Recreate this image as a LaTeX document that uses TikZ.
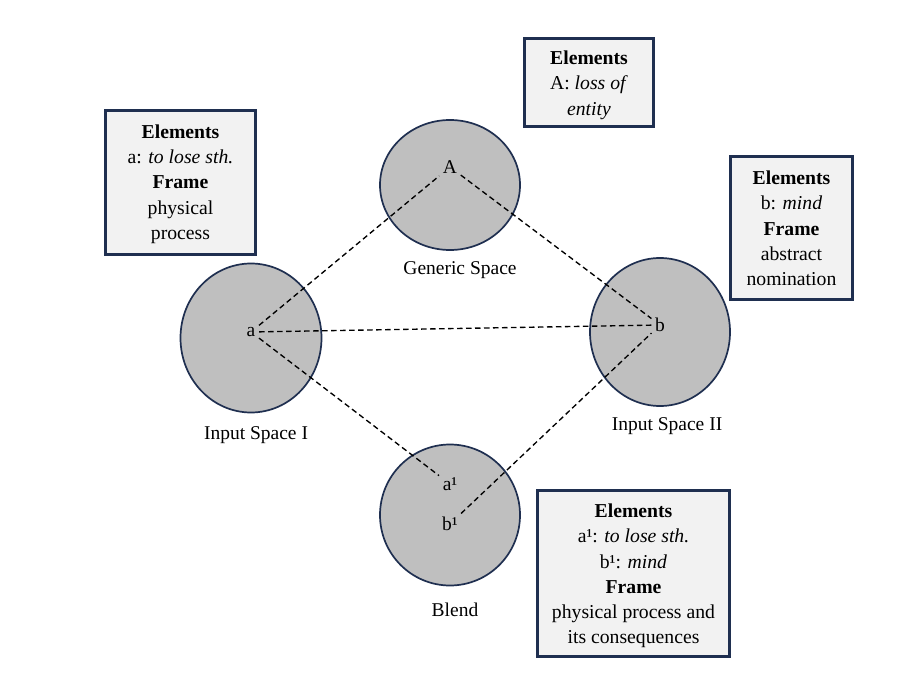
\documentclass[tikz,border=0pt]{standalone}
\usepackage{fontspec}
\setmainfont{Liberation Serif}
\usetikzlibrary{shapes.geometric}
\definecolor{navy}{RGB}{31,47,80}
\definecolor{circgray}{RGB}{191,191,191}
\definecolor{boxgray}{RGB}{242,242,242}
\begin{document}
\begin{tikzpicture}[x=1pt,y=-1pt,
  spacecirc/.style={ellipse, draw=navy, line width=1.7pt, fill=circgray, inner sep=0pt},
  infobox/.style={rectangle, draw=navy, line width=2.6pt, fill=boxgray, inner sep=0pt},
  boxtext/.style={align=center, inner sep=0pt, font=\fontsize{19.7}{25.3}\selectfont},
  ptlbl/.style={inner sep=3.5pt, font=\fontsize{19.5}{24}\selectfont},
  spclbl/.style={inner sep=0pt, font=\fontsize{19.5}{24}\selectfont},
  conn/.style={draw=black, line width=1.35pt, dash pattern=on 5.5pt off 3.5pt}]
\useasboundingbox (0,0) rectangle (909,684);
\fill[white] (0,0) rectangle (909,684);

% spaces
\node[spacecirc, minimum width=140pt, minimum height=130pt] (gen) at (450,185) {};
\node[spacecirc, minimum width=141pt, minimum height=149pt] (in1) at (251,338) {};
\node[spacecirc, minimum width=140pt, minimum height=148pt] (in2) at (660,332) {};
\node[spacecirc, minimum width=140pt, minimum height=141pt] (blend) at (450,515) {};

% space labels
\node[spclbl] (genlbl) at (460,270) {Generic Space};
\node[spclbl] (in1lbl) at (256,435) {Input Space I};
\node[spclbl] (in2lbl) at (667,426) {Input Space II};
\node[spclbl] (blendlbl) at (455,610) {Blend};

% element points
\node[ptlbl] (A) at (450,167) {A};
\node[ptlbl] (a) at (251,332) {a};
\node[ptlbl] (b) at (660,325) {b};
\node[ptlbl] (a1) at (450,484) {a¹};
\node[ptlbl] (b1) at (450,524) {b¹};

% connectors
\draw[conn] (a) -- (A);
\draw[conn] (A) -- (b);
\draw[conn] (a) -- (b);
\draw[conn] (a) -- (a1);
\draw[conn] (b1) -- (b);

% info boxes
\node[infobox, minimum width=150pt, minimum height=144pt] (box1) at (180.5,182.5) {};
\node[boxtext] (box1txt) at (180.5,184)
  {\textbf{Elements}\\ a: \textit{to lose sth.}\\ \textbf{Frame}\\ physical\\ process};
\node[infobox, minimum width=129pt, minimum height=88pt] (box2) at (589,82.5) {};
\node[boxtext] (box2txt) at (589,85)
  {\textbf{Elements}\\ A: \textit{loss of}\\ \textit{entity}};
\node[infobox, minimum width=122pt, minimum height=143pt] (box3) at (791.5,228) {};
\node[boxtext] (box3txt) at (791.5,228.5)
  {\textbf{Elements}\\ b: \textit{mind}\\ \textbf{Frame}\\ abstract\\ nomination};
\node[infobox, minimum width=192pt, minimum height=166pt] (box4) at (633.5,573.5) {};
\node[boxtext] (box4txt) at (633.5,576)
  {\textbf{Elements}\\ a¹: \textit{to lose sth.}\\ b¹: \textit{mind}\\ \textbf{Frame}\\ physical process and\\ its consequences};
\end{tikzpicture}
\end{document}
